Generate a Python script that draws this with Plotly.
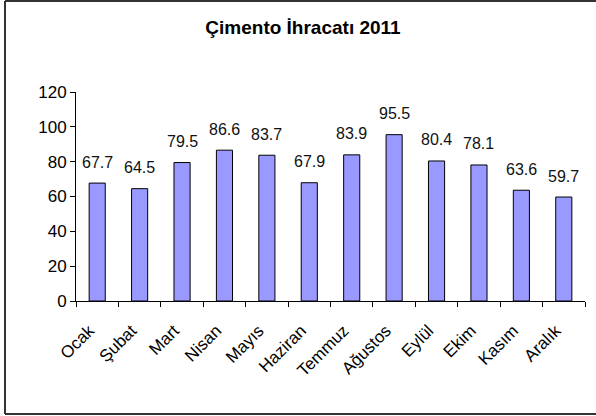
import plotly.graph_objects as go

months = ["Ocak", "Şubat", "Mart", "Nisan", "Mayıs", "Haziran", "Temmuz",
          "Ağustos", "Eylül", "Ekim", "Kasım", "Aralık"]
values = [67.7, 64.5, 79.5, 86.6, 83.7, 67.9, 83.9, 95.5, 80.4, 78.1, 63.6, 59.7]
y_ticks = [0, 20, 40, 60, 80, 100, 120]
title_text = "Çimento İhracatı 2011"

FONT = "Liberation Sans, Arial, sans-serif"

fig = go.Figure(go.Bar(
    x=months, y=values,
    marker=dict(color="#9999FF", line=dict(color="black", width=1)),
    hoverinfo="skip",
))

for m, v in zip(months, values):
    fig.add_annotation(x=m, y=v, text=f"{v:.1f}", showarrow=False,
                       yanchor="middle", yshift=21,
                       font=dict(family=FONT, size=16, color="#111"))

fig.update_layout(
    width=596, height=416,
    margin=dict(l=76, r=11, t=92, b=115, autoexpand=False),
    paper_bgcolor="white", plot_bgcolor="white",
    showlegend=False,
    bargap=0.62,
    title=dict(text=f"<b>{title_text}</b>", x=303/596, xanchor="center",
               y=1-27/416, yanchor="middle",
               font=dict(family=FONT, size=19, color="black")),
    font=dict(family=FONT, color="black"),
)
fig.update_yaxes(range=[0, 120], tickvals=y_ticks, showgrid=False,
                 showline=True, linecolor="black", linewidth=1,
                 ticks="outside", ticklen=5, tickcolor="black",
                 tickfont=dict(family=FONT, size=17, color="black"), zeroline=False)
fig.update_xaxes(showgrid=False, showline=True, linecolor="black", linewidth=1,
                 ticks="outside", ticklen=5, tickcolor="black", tickson="boundaries",
                 tickangle=-45, ticklabelstandoff=12, ticklabelshift=-8,
                 tickfont=dict(family=FONT, size=17, color="black"))

# outer border (left, top, bottom visible)
bx0 = (5 - 76) / 509
bx1 = (600 - 76) / 509
by_top = (301 - 1) / 209
by_bot = (301 - 414) / 209
for (x0, y0, x1, y1) in [(bx0, by_top, bx0, by_bot), (bx0, by_top, bx1, by_top), (bx0, by_bot, bx1, by_bot)]:
    fig.add_shape(type="line", xref="paper", yref="paper", x0=x0, y0=y0, x1=x1, y1=y1,
                  line=dict(color="#333", width=2))

fig.write_html("out.html", config={"displayModeBar": False},
               post_script="document.body.style.margin='0';document.body.style.overflow='hidden';")
